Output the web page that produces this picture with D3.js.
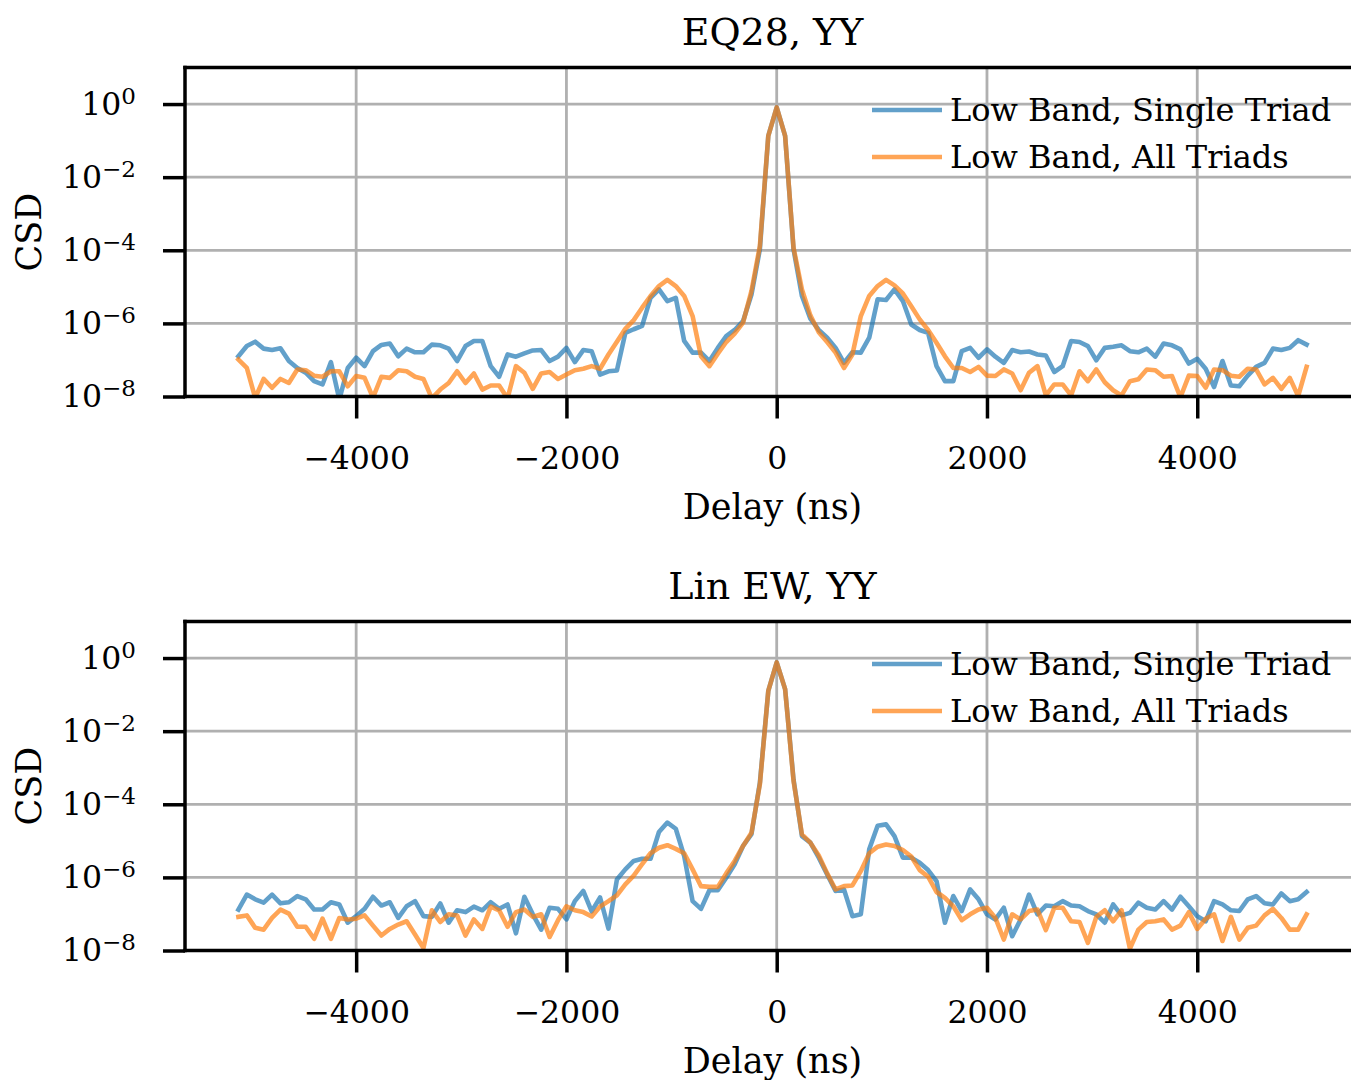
<!DOCTYPE html>
<html>
<head>
<meta charset="utf-8">
<script src="https://cdn.jsdelivr.net/npm/d3@7"></script>
<style>
body { margin: 0; background: #fff; }
text { font-family: "DejaVu Serif", serif; fill: #000; }
</style>
</head>
<body>
<svg id="chart" width="1351" height="1080"></svg>
<script>
// delay bins (ns)
const delays = [
    -5120,-5040,-4960,-4880,-4800,-4720,-4640,-4560,-4480,-4400,
    -4320,-4240,-4160,-4080,-4000,-3920,-3840,-3760,-3680,-3600,
    -3520,-3440,-3360,-3280,-3200,-3120,-3040,-2960,-2880,-2800,
    -2720,-2640,-2560,-2480,-2400,-2320,-2240,-2160,-2080,-2000,
    -1920,-1840,-1760,-1680,-1600,-1520,-1440,-1360,-1280,-1200,
    -1120,-1040,-960,-880,-800,-720,-640,-560,-480,-400,
    -320,-240,-160,-80,0,80,160,240,320,400,
    480,560,640,720,800,880,960,1040,1120,1200,
    1280,1360,1440,1520,1600,1680,1760,1840,1920,2000,
    2080,2160,2240,2320,2400,2480,2560,2640,2720,2800,
    2880,2960,3040,3120,3200,3280,3360,3440,3520,3600,
    3680,3760,3840,3920,4000,4080,4160,4240,4320,4400,
    4480,4560,4640,4720,4800,4880,4960,5040
];

// CSD values, stored as log10(CSD)
const eq28Single = [
    -6.90,-6.62,-6.50,-6.69,-6.73,-6.68,-7.03,-7.22,-7.35,-7.58,-7.67,-7.06,-8.08,-7.22,-6.94,-7.17,
    -6.76,-6.59,-6.55,-6.90,-6.69,-6.79,-6.79,-6.58,-6.60,-6.69,-7.03,-6.62,-6.48,-6.48,-7.17,-7.46,
    -6.85,-6.91,-6.82,-6.74,-6.73,-7.03,-6.91,-6.67,-7.06,
    -6.73,-6.76,-7.40,-7.31,-7.29,-6.26,-6.16,-6.07,-5.30,-5.07,-5.39,-5.30,-6.48,-6.80,-6.80,-7.03,
    -6.67,-6.35,-6.18,-5.94,-5.21,-3.97,-0.87,-0.09,-0.87,-3.97,-5.25,-5.87,-6.18,-6.39,-6.67,-7.08,
    -6.79,-6.80,-6.39,-5.34,-5.36,-5.07,-5.39,-6.03,-6.18,-6.26,-7.17,-7.58,-7.58,-6.76,-6.67,-6.94,
    -6.71,-6.91,-7.08,-6.73,-6.79,-6.77,-6.85,-6.88,-7.33,-7.17,-6.48,-6.51,-6.62,-7.01,-6.67,-6.64,
    -6.60,-6.76,-6.79,-6.69,-6.91,-6.55,-6.60,-6.71,-7.10,-6.97,-7.24,-7.74,-7.03,-7.70,-7.72,-7.43,
    -7.19,-7.08,-6.69,-6.73,-6.67,-6.46,-6.58
];
const eq28All = [
    -6.99,-7.22,-8.04,-7.52,-7.76,-7.52,-7.63,-7.26,-7.28,-7.43,-7.46,-7.31,-7.31,-7.72,-7.44,-7.49,
    -8.03,-7.46,-7.49,-7.28,-7.31,-7.46,-7.52,-8.05,-7.81,-7.63,-7.31,-7.63,-7.37,-7.81,-7.70,-7.70,
    -8.05,-7.17,-7.35,-7.79,-7.37,-7.33,-7.52,-7.40,-7.28,
    -7.24,-7.17,-7.24,-6.85,-6.50,-6.15,-5.91,-5.57,-5.25,-4.98,-4.81,-4.98,-5.25,-5.80,-6.90,-7.17,
    -6.83,-6.51,-6.28,-5.98,-5.11,-3.88,-0.87,-0.09,-0.87,-3.93,-5.07,-5.78,-6.24,-6.51,-6.80,-7.22,
    -6.85,-5.80,-5.25,-4.98,-4.81,-4.96,-5.18,-5.53,-5.89,-6.18,-6.53,-6.90,-7.22,-7.22,-7.33,-7.19,
    -7.43,-7.44,-7.26,-7.37,-7.83,-7.35,-7.17,-7.97,-7.67,-7.67,-7.97,-7.31,-7.58,-7.26,-7.61,-7.83,
    -7.97,-7.58,-7.53,-7.26,-7.28,-7.46,-7.44,-8.02,-7.43,-7.44,-7.76,-7.26,-7.28,-7.43,-7.46,-7.24,
    -7.26,-7.67,-7.49,-7.79,-7.49,-7.99,-7.19
];
const linEwSingle = [
    -6.88,-6.47,-6.60,-6.69,-6.47,-6.71,-6.68,-6.51,-6.60,-6.88,-6.88,-6.68,-6.74,-7.24,-7.06,-6.86,
    -6.53,-6.77,-6.68,-7.11,-6.79,-6.65,-7.06,-7.08,-6.71,-7.24,-6.90,-6.95,-6.80,-6.90,-6.68,-6.86,
    -6.74,-7.53,-6.53,-7.01,-7.43,-6.83,-6.86,-7.15,-6.65,-6.37,
    -6.93,-6.55,-7.40,-6.06,-5.78,-5.55,-5.49,-5.49,-4.76,-4.50,-4.67,-5.42,-6.65,-6.86,-6.35,-6.35,
    -6.01,-5.64,-5.14,-4.82,-3.41,-0.90,-0.12,-0.85,-3.32,-4.87,-5.05,-5.46,-5.92,-6.37,-6.33,-7.06,
    -7.01,-5.23,-4.59,-4.55,-4.87,-5.46,-5.46,-5.60,-5.80,-6.10,-7.24,-6.51,-6.92,-6.33,
    -6.60,-7.01,-7.15,-6.83,-7.61,-7.15,-6.47,-7.01,-6.77,-6.79,-6.65,-6.77,-6.79,-6.92,-7.01,-7.24,
    -6.74,-7.04,-6.97,-6.69,-6.83,-6.88,-6.65,-6.88,-6.53,-6.79,-7.06,-7.20,-6.65,-6.74,-6.90,-6.92,
    -6.60,-6.51,-6.71,-6.74,-6.44,-6.65,-6.60,-6.40
];
const linEwAll = [
    -7.08,-7.04,-7.38,-7.43,-7.11,-6.88,-6.99,-7.35,-7.35,-7.68,-7.13,-7.68,-7.11,-7.15,-7.13,-7.04,
    -7.32,-7.59,-7.41,-7.29,-7.20,-7.56,-7.93,-6.90,-7.22,-7.01,-7.04,-7.59,-7.15,-7.41,-6.80,-6.90,
    -7.35,-6.95,-6.88,-7.08,-7.01,-7.63,-7.17,-6.79,-6.90,-6.95,
    -7.07,-6.80,-6.65,-6.49,-6.19,-5.95,-5.64,-5.34,-5.19,-5.12,-5.22,-5.34,-5.78,-6.24,-6.26,-6.26,
    -5.89,-5.55,-5.14,-4.78,-3.45,-0.90,-0.12,-0.85,-3.36,-4.82,-5.05,-5.40,-5.89,-6.33,-6.24,-6.22,
    -5.83,-5.34,-5.16,-5.10,-5.14,-5.25,-5.43,-5.80,-5.98,-6.40,-6.56,-6.79,-7.17,-7.01,
    -6.88,-6.83,-7.11,-7.70,-7.01,-7.15,-6.92,-6.88,-7.44,-6.83,-6.83,-7.20,-7.22,-7.79,-7.08,-6.90,
    -7.20,-6.90,-7.95,-7.43,-7.22,-7.20,-7.15,-7.43,-7.32,-6.95,-7.41,-7.13,-7.01,-7.74,-7.08,-7.70,
    -7.38,-7.32,-7.04,-6.86,-7.11,-7.43,-7.43,-7.01
];

const panelTitles = ["EQ28, YY", "Lin EW, YY"];
const seriesNames = ["Low Band, Single Triad", "Low Band, All Triads"];
const xTicks = [-4000, -2000, 0, 2000, 4000];
const yTickExps = [-8, -6, -4, -2, 0];

const colors = ["#1f77b4", "#ff7f0e"];
const svg = d3.select("#chart");

function expLabel(e){
    return e < 0 ? "\u2212" + (-e) : "" + e;
}

function drawPanel(idx, title, series, top){
    let left = 185, right = 1360, height = 329;
    let x = d3.scaleLinear().domain([-5628, 5548]).range([left, right]);
    let y = d3.scaleLog().domain([1e-8, 1e1]).range([top + height, top]);
    let g = svg.append("g");

    g.append("clipPath").attr("id", "clip" + idx)
        .append("rect")
        .attr("x", left).attr("y", top)
        .attr("width", right - left).attr("height", height);

    // grid
    g.selectAll(".vgrid").data(xTicks).enter().append("line")
        .attr("x1", d => x(d)).attr("x2", d => x(d))
        .attr("y1", top).attr("y2", top + height)
        .attr("stroke", "#b0b0b0").attr("stroke-width", 2.8);
    g.selectAll(".hgrid").data(yTickExps).enter().append("line")
        .attr("x1", left).attr("x2", right)
        .attr("y1", d => y(Math.pow(10, d))).attr("y2", d => y(Math.pow(10, d)))
        .attr("stroke", "#b0b0b0").attr("stroke-width", 2.8);

    // lines
    let line = d3.line()
        .x((d, i) => x(delays[i]))
        .y(d => y(Math.pow(10, d)));
    series.forEach(function(s, k){
        g.append("path")
            .attr("d", line(s))
            .attr("clip-path", "url(#clip" + idx + ")")
            .attr("fill", "none")
            .attr("stroke", colors[k])
            .attr("stroke-opacity", 0.7)
            .attr("stroke-width", 4.6)
            .attr("stroke-linejoin", "round")
            .attr("stroke-linecap", "square");
    });

    // x axis
    let xAxis = g.append("g")
        .attr("transform", "translate(0," + (top + height) + ")")
        .call(d3.axisBottom(x).tickValues(xTicks).tickSize(22).tickPadding(28)
            .tickFormat(d3.format("d")));
    xAxis.select(".domain").remove();
    xAxis.selectAll(".tick line").attr("stroke", "#000").attr("stroke-width", 3.5);
    xAxis.selectAll(".tick text")
        .attr("font-family", "DejaVu Serif").attr("font-size", 31.5);

    // y axis
    let yAxis = g.append("g")
        .attr("transform", "translate(" + left + ",0)")
        .call(d3.axisLeft(y).tickValues(yTickExps.map(e => Math.pow(10, e)))
            .tickSize(22).tickPadding(27).tickFormat(""));
    yAxis.select(".domain").remove();
    yAxis.selectAll(".tick line").attr("stroke", "#000").attr("stroke-width", 3.5);
    yAxis.selectAll(".tick text").each(function(d){
        let t = d3.select(this)
            .attr("font-family", "DejaVu Serif").attr("font-size", 31.5);
        t.text(null);
        t.append("tspan").text("10");
        t.append("tspan").attr("dy", -11).attr("font-size", 23)
            .text(expLabel(Math.round(Math.log10(d))));
    });

    // spines
    let spines = [
        [left, top, left, top + height],
        [left, top, right, top],
        [left, top + height, right, top + height],
        [right, top, right, top + height]
    ];
    g.selectAll(".spine").data(spines).enter().append("line")
        .attr("x1", d => d[0]).attr("y1", d => d[1])
        .attr("x2", d => d[2]).attr("y2", d => d[3])
        .attr("stroke", "#000").attr("stroke-width", 3.5)
        .attr("stroke-linecap", "square");

    // labels
    g.append("text")
        .attr("x", (left + right) / 2).attr("y", top - 22.5)
        .attr("text-anchor", "middle").attr("font-size", 38)
        .text(title);
    g.append("text")
        .attr("x", (left + right) / 2).attr("y", top + height + 122)
        .attr("text-anchor", "middle").attr("font-size", 35)
        .text("Delay (ns)");
    g.append("text")
        .attr("transform", "translate(41," + (top + height / 2) + ") rotate(-90)")
        .attr("text-anchor", "middle").attr("font-size", 35)
        .text("CSD");

    // legend
    seriesNames.forEach(function(name, k){
        let ly = top + 42.5 + k * 47;
        g.append("line")
            .attr("x1", 872).attr("x2", 942)
            .attr("y1", ly).attr("y2", ly)
            .attr("stroke", colors[k]).attr("stroke-opacity", 0.7)
            .attr("stroke-width", 4.6);
        g.append("text")
            .attr("x", 950).attr("y", ly + 11)
            .attr("font-size", 32)
            .text(name);
    });
}

drawPanel(0, panelTitles[0], [eq28Single, eq28All], 67.5);
drawPanel(1, panelTitles[1], [linEwSingle, linEwAll], 621.5);
</script>
</body>
</html>
